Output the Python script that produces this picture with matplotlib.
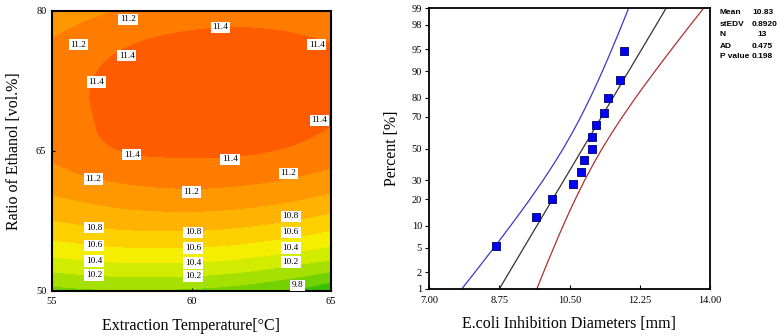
import numpy as np
import matplotlib
matplotlib.use("Agg")
import matplotlib.pyplot as plt
import matplotlib.tri as mtri
from matplotlib.colors import ListedColormap, BoundaryNorm
from statistics import NormalDist

# ---------------- data: response surface (left) ----------------
temp_grid = [55.0, 57.5, 60.0, 62.5, 65.0]
ethanol_grid = [50, 53, 56, 59, 62, 65, 68, 71, 74, 77, 80]
# inhibition diameter (rows = ethanol, cols = temperature)
diam_grid = [
    [9.93, 9.98, 9.96, 9.86, 9.62],
    [10.32, 10.39, 10.39, 10.30, 10.15],
    [10.65, 10.74, 10.75, 10.68, 10.54],
    [10.91, 11.01, 11.04, 10.99, 10.86],
    [11.11, 11.23, 11.27, 11.23, 11.12],
    [11.24, 11.40, 11.43, 11.41, 11.30],
    [11.31, 11.45, 11.52, 11.52, 11.41],
    [11.32, 11.46, 11.56, 11.56, 11.50],
    [11.28, 11.44, 11.53, 11.54, 11.47],
    [11.20, 11.36, 11.44, 11.45, 11.38],
    [11.05, 11.21, 11.29, 11.30, 11.23],
]
contour_levels = [9.5, 9.8, 10.0, 10.2, 10.4, 10.6, 10.8, 11.0, 11.2, 11.4, 11.8]
label_levels = [9.8, 10.2, 10.4, 10.6, 10.8, 11.2, 11.4]
band_colors = ["#3cc000", "#74d200", "#a6e000", "#d2ec00", "#f6ee00",
               "#ffd000", "#ffb200", "#ff9800", "#ff7c00", "#ff5c00"]
temp_ticks = [55, 60, 65]
ethanol_ticks = [50, 65, 80]

# ---------------- data: normal probability plot (right) ----------------
diameters = [8.67, 9.67, 10.07, 10.58, 10.78, 10.87, 11.07, 11.07,
             11.17, 11.37, 11.47, 11.77, 11.87]
percents = [5.2, 12.7, 20.1, 27.6, 35.1, 42.5, 50.0, 57.5, 64.9,
            72.4, 79.9, 87.3, 94.8]
fit_x = [8.755, 12.905]
fit_p = [1, 99]
band_p = [1, 2, 3, 5, 7, 10, 15, 20, 30, 40, 50, 60, 70, 80, 85, 90, 93, 95, 97, 98, 99]
lower_x = [7.821, 8.143, 8.345, 8.619, 8.813, 9.032, 9.304, 9.515, 9.845, 10.111,
           10.345, 10.563, 10.781, 11.016, 11.153, 11.319, 11.446, 11.553, 11.701,
           11.807, 11.972]
upper_x = [9.688, 9.853, 9.959, 10.107, 10.214, 10.341, 10.507, 10.644, 10.879,
           11.097, 11.315, 11.549, 11.815, 12.145, 12.356, 12.628, 12.847, 13.041,
           13.315, 13.517, 13.839]
prob_ticks = [1, 2, 5, 10, 20, 30, 50, 70, 80, 90, 95, 98, 99]
diam_ticks = [7.00, 8.75, 10.50, 12.25, 14.00]
stats_names = ["Mean", "stEDV", "N", "AD", "P value"]
stats_values = ["10.83", "0.8920", "13", "0.475", "0.198"]

# ---------------- figure ----------------
plt.rcParams["font.family"] = ["Liberation Serif", "DejaVu Serif"]
fig = plt.figure(figsize=(7.77, 3.36), dpi=100)

# Left: contour
ax1 = fig.add_axes([52 / 777, 45 / 336, 279 / 777, 280 / 336])
TT, EE = np.meshgrid(temp_grid, ethanol_grid)
ZZ = np.array(diam_grid)
tri = mtri.Triangulation(TT.ravel(), EE.ravel())
refiner = mtri.UniformTriRefiner(tri)
tri_f, z_f = refiner.refine_field(ZZ.ravel(), subdiv=4)
cmap = ListedColormap(band_colors)
norm = BoundaryNorm(contour_levels, cmap.N)
ax1.tricontourf(tri_f, z_f, levels=contour_levels, cmap=cmap, norm=norm)
cl = ax1.tricontour(tri_f, z_f, levels=label_levels, colors="none", linewidths=0)
manual_pos = [(57.72, 79.1), (55.95, 76.4), (56.49, 62.0), (59.99, 60.6), (63.47, 62.6),
              (61.03, 78.25), (64.49, 76.4), (57.68, 75.2), (56.6, 72.4), (64.58, 68.3),
              (57.86, 64.6), (61.38, 64.1),
              (56.51, 56.8), (60.05, 56.3), (63.56, 58.0),
              (56.51, 54.9), (60.05, 54.6), (63.56, 56.3),
              (56.51, 53.2), (60.05, 53.0), (63.56, 54.6),
              (56.51, 51.7), (60.05, 51.6), (63.56, 53.1),
              (63.8, 50.6)]
labels = ax1.clabel(cl, fmt="%.1f", manual=manual_pos, inline=False, fontsize=6.7,
                    colors="black")
for t, pos in zip(labels, manual_pos):
    t.set_rotation(0)
    t.set_position(pos)
    t.set_bbox(dict(facecolor="white", edgecolor="none", pad=1.2))
ax1.set_xlim(55, 65)
ax1.set_ylim(50, 80)
ax1.set_xticks(temp_ticks)
ax1.set_yticks(ethanol_ticks)
ax1.tick_params(labelsize=7.5, length=2, direction="in", pad=4)
for s in ax1.spines.values():
    s.set_linewidth(1.5)
ax1.set_xlabel("Extraction Temperature[°C]", fontsize=11.5, labelpad=9)
ax1.set_ylabel("Ratio of Ethanol [vol.%]", fontsize=11.5, labelpad=10)

# Right: normal probability plot
ax2 = fig.add_axes([429 / 777, 47.3 / 336, 281 / 777, 280.4 / 336])
nd = NormalDist()
fwd = np.vectorize(lambda p: nd.inv_cdf(min(max(p, 1e-6), 100 - 1e-6) / 100.0),
                   otypes=[float])
inv = np.vectorize(lambda z: 100.0 * nd.cdf(z), otypes=[float])
ax2.set_yscale("function", functions=(fwd, inv))
ax2.plot(lower_x, band_p, color="#3a3ac8", lw=0.9)
ax2.plot(upper_x, band_p, color="#b03030", lw=0.9)
ax2.plot(fit_x, fit_p, color="#333333", lw=0.9)
ax2.scatter(diameters, percents, marker="s", s=34, color="#0000ff",
            edgecolors="#000060", linewidths=0.6, zorder=5)
ax2.set_xlim(7, 14)
ax2.set_ylim(1, 99)
ax2.set_xticks(diam_ticks)
ax2.set_xticklabels([f"{v:.2f}" for v in diam_ticks])
ax2.set_yticks(prob_ticks)
ax2.set_yticklabels([str(v) for v in prob_ticks])
ax2.yaxis.set_minor_locator(matplotlib.ticker.NullLocator())
ax2.tick_params(axis="x", labelsize=7.5, direction="in", length=3, pad=5)
ax2.tick_params(axis="y", labelsize=7.5, direction="out", length=3, pad=2)
for s in ax2.spines.values():
    s.set_linewidth(1.3)
ax2.set_xlabel("E.coli Inhibition Diameters [mm]", fontsize=11.5, labelpad=8)
ax2.set_ylabel("Percent [%]", fontsize=11.5, labelpad=8)

# stats box text
row_y = [13, 24, 35, 46, 57]
for name, val, y in zip(stats_names, stats_values, row_y):
    fig.text(720 / 777, 1 - y / 336, name, fontsize=6, fontweight="bold",
             family="Liberation Sans", va="center", ha="left")
    xv = 757 if name == "N" else 752
    fig.text(xv / 777, 1 - y / 336, val, fontsize=6, fontweight="bold",
             family="Liberation Sans", va="center", ha="left")

fig.savefig("out.png", dpi=100)
